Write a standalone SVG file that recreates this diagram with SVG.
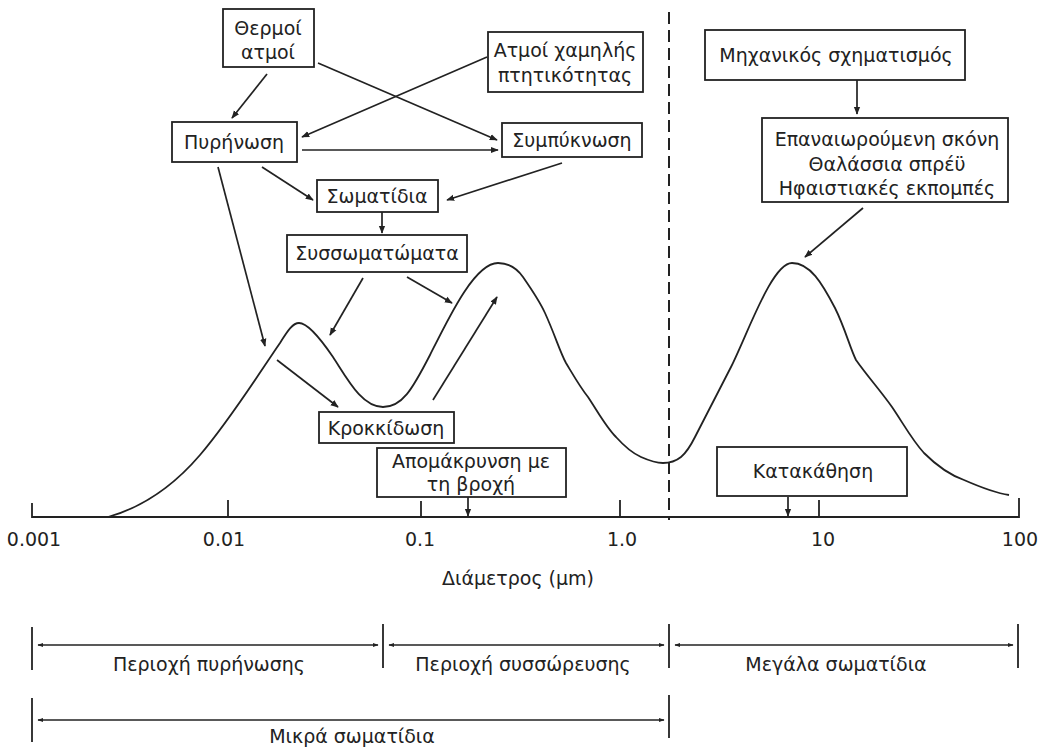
<svg xmlns="http://www.w3.org/2000/svg" width="1039" height="747" viewBox="0 0 1039 747">
<style>
.bg{fill:#fff}
.box{fill:#fff;stroke:#222;stroke-width:1.8}
.t{font-family:"DejaVu Sans","Liberation Sans",Arial,sans-serif;font-size:19px;fill:#222;text-anchor:middle}
.ln{stroke:#222;stroke-width:1.8;fill:none}
.ar{stroke:#222;stroke-width:1.7;fill:none;marker-end:url(#ah)}
.dar{stroke:#222;stroke-width:1.5;fill:none;marker-end:url(#ah2);marker-start:url(#ah2s)}
</style>
<defs>
<marker id="ah" viewBox="0 0 10 10" refX="9" refY="5" markerWidth="8" markerHeight="8" markerUnits="userSpaceOnUse" orient="auto"><path d="M0,1 L10,5 L0,9 z" fill="#222"/></marker>
<marker id="ah2" viewBox="0 0 10 10" refX="9" refY="5" markerWidth="6" markerHeight="6" markerUnits="userSpaceOnUse" orient="auto"><path d="M0,1.5 L10,5 L0,8.5 z" fill="#222"/></marker>
<marker id="ah2s" viewBox="0 0 10 10" refX="1" refY="5" markerWidth="6" markerHeight="6" markerUnits="userSpaceOnUse" orient="auto"><path d="M10,1.5 L0,5 L10,8.5 z" fill="#222"/></marker>
</defs>
<rect class="bg" x="0" y="0" width="1039" height="747"/>

<g id="connectors">
<line class="ar" x1="267" y1="74" x2="232" y2="118"/>
<line class="ar" x1="318" y1="63" x2="497" y2="140"/>
<line class="ar" x1="487" y1="57" x2="302" y2="137"/>
<line class="ar" x1="302" y1="150" x2="498" y2="150"/>
<line class="ar" x1="262" y1="167" x2="313" y2="200"/>
<line class="ar" x1="562" y1="163" x2="447" y2="200"/>
<line class="ar" x1="382" y1="212" x2="382" y2="233"/>
<line class="ar" x1="218" y1="167" x2="265" y2="346"/>
<line class="ar" x1="363" y1="278" x2="330" y2="335"/>
<line class="ar" x1="407" y1="277" x2="452" y2="303"/>
<line class="ar" x1="277" y1="360" x2="338" y2="407"/>
<line class="ar" x1="433" y1="400" x2="497" y2="297"/>
<line class="ar" x1="857" y1="80" x2="857" y2="114"/>
<line class="ar" x1="863" y1="208" x2="805" y2="257"/>
<line class="ar" x1="468" y1="497" x2="468" y2="516"/>
<line class="ar" x1="788" y1="497" x2="788" y2="516"/>
</g>

<g id="axis">
<path class="ln" d="M32,503 L32,517 L1019,517 L1019,498"/>
<line class="ln" x1="228" y1="500" x2="228" y2="517"/>
<line class="ln" x1="421" y1="501" x2="421" y2="517"/>
<line class="ln" x1="620" y1="500" x2="620" y2="517"/>
<line class="ln" x1="819" y1="500" x2="819" y2="517"/>
<line x1="669" y1="12" x2="669" y2="520" stroke="#222" stroke-width="2" stroke-dasharray="12,6"/>
<text class="t" x="34" y="546">0.001</text>
<text class="t" x="224" y="546">0.01</text>
<text class="t" x="420" y="546">0.1</text>
<text class="t" x="622" y="546">1.0</text>
<text class="t" x="823" y="546">10</text>
<text class="t" x="1020" y="546">100</text>
<text class="t" x="518" y="585">Διάμετρος (μm)</text>
</g>

<g id="curve">
<path class="ln" stroke-width="2" d="M108,517 C140,508 170,490 200,455 C230,420 260,372 280,343 C288,330 293,323 299,323 C307,323 318,335 333,357 C348,380 362,407 383,407 C402,407 412,390 430,355 C450,315 475,263 498,263 C510,263 518,270 523,277 C532,290 540,302 545,313 C555,335 560,352 566,363 C575,378 580,387 588,397 C598,412 606,427 616,437 C625,447 632,453 641,457 C650,461 656,463 663,463 C670,463 676,461 681,457 C687,452 690,447 695,437 L731,367 C748,333 772,263 792,263 C810,263 822,283 835,308 C845,328 850,348 856,360 C868,377 880,390 892,407 C903,423 912,440 924,453 C937,466 950,475 964,480 C980,487 995,493 1009,495"/>
</g>

<g id="n-thermoi">
<rect class="box" x="223" y="9" width="91" height="58"/>
<text class="t" x="268" y="35">Θερμοί</text>
<text class="t" x="268" y="59">ατμοί</text>
</g>
<g id="n-atmoi">
<rect class="box" x="488" y="32" width="155" height="60"/>
<text class="t" x="565" y="57">Ατμοί χαμηλής</text>
<text class="t" x="565" y="82">πτητικότητας</text>
</g>
<g id="n-pyrinosi">
<rect class="box" x="172" y="122" width="125" height="40"/>
<text class="t" x="234" y="149">Πυρήνωση</text>
</g>
<g id="n-sympyknosi">
<rect class="box" x="502" y="123" width="140" height="34"/>
<text class="t" x="572" y="147">Συμπύκνωση</text>
</g>
<g id="n-somatidia">
<rect class="box" x="317" y="180" width="121" height="32"/>
<text class="t" x="377" y="203">Σωματίδια</text>
</g>
<g id="n-syssomatomata">
<rect class="box" x="287" y="235" width="180" height="37"/>
<text class="t" x="377" y="260">Συσσωματώματα</text>
</g>
<g id="n-krokkidosi">
<rect class="box" x="319" y="412" width="135" height="31"/>
<text class="t" x="386" y="435">Κροκκίδωση</text>
</g>
<g id="n-apomakrynsi">
<rect class="box" x="377" y="448" width="189" height="49"/>
<text class="t" x="471" y="468">Απομάκρυνση με</text>
<text class="t" x="471" y="491">τη βροχή</text>
</g>
<g id="n-katakathisi">
<rect class="box" x="717" y="447" width="190" height="49"/>
<text class="t" x="813" y="478">Κατακάθηση</text>
</g>
<g id="n-mixanikos">
<rect class="box" x="705" y="30" width="260" height="50"/>
<text class="t" x="836" y="62">Μηχανικός σχηματισμός</text>
</g>
<g id="n-epanaiorou">
<rect class="box" x="762" y="118" width="246" height="84"/>
<text class="t" x="887" y="146">Επαναιωρούμενη σκόνη</text>
<text class="t" x="887" y="171">Θαλάσσια σπρέϋ</text>
<text class="t" x="887" y="195">Ηφαιστιακές εκπομπές</text>
</g>

<g id="ranges">
<line class="ln" x1="32" y1="627" x2="32" y2="670"/>
<line class="ln" x1="383" y1="624" x2="383" y2="668"/>
<line class="ln" x1="669" y1="624" x2="669" y2="668"/>
<line class="ln" x1="1018" y1="624" x2="1018" y2="668"/>
<line class="dar" x1="38" y1="645" x2="378" y2="645"/>
<line class="dar" x1="389" y1="645" x2="664" y2="645"/>
<line class="dar" x1="675" y1="645" x2="1013" y2="645"/>
<text class="t" x="209" y="671">Περιοχή πυρήνωσης</text>
<text class="t" x="523" y="671">Περιοχή συσσώρευσης</text>
<text class="t" x="836" y="671">Μεγάλα σωματίδια</text>
<line class="ln" x1="32" y1="698" x2="32" y2="742"/>
<line class="ln" x1="669" y1="695" x2="669" y2="738"/>
<line class="dar" x1="38" y1="720" x2="664" y2="720"/>
<text class="t" x="352" y="743">Μικρά σωματίδια</text>
</g>
</svg>
